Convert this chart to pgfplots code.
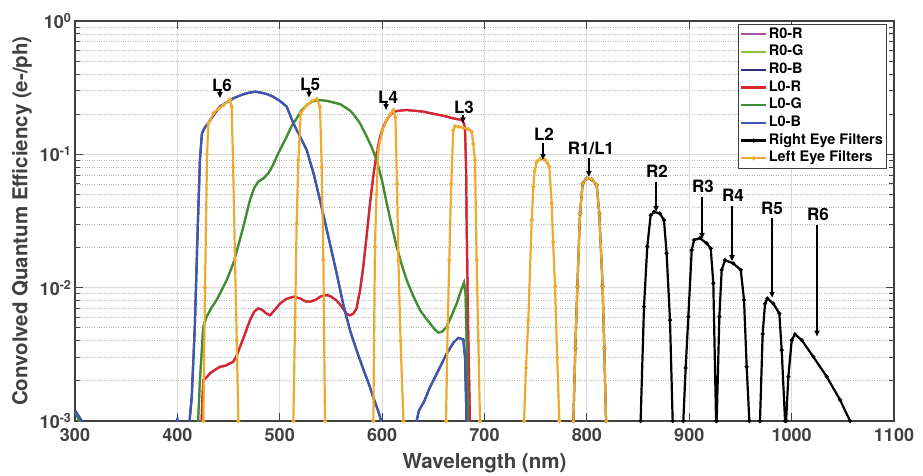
\documentclass[border=0pt]{standalone}
\usepackage{fontspec}
\setmainfont{TeX Gyre Heros}
\usepackage{pgfplots}
\pgfplotsset{compat=1.18}
\usepackage{pgfplotstable}
\usetikzlibrary{arrows.meta}

\definecolor{cR0R}{HTML}{A550A6}
\definecolor{cR0G}{HTML}{8CC63F}
\definecolor{cR0B}{HTML}{2B2E7E}
\definecolor{cL0R}{HTML}{D7262B}
\definecolor{cL0G}{HTML}{3E8B3A}
\definecolor{cL0B}{HTML}{3F57AE}
\definecolor{cLeft}{HTML}{EFA92F}
\definecolor{axgray}{HTML}{404040}
\definecolor{gridgray}{HTML}{DCDCDC}

\pgfplotstableread{
x y
300 0.0012
305 0.00105
310 0.0009
395 0.0008
400 0.00103
402 0.0008
410 0.0008
412 0.00102
414 0.0015
417 0.005
420 0.03
422 0.09
424 0.144
427 0.16
430 0.171
436 0.2
441.6 0.228
448 0.245
454.7 0.263
462 0.278
470 0.29
475.8 0.295
482 0.29
488 0.282
493.7 0.27
500 0.252
506.8 0.228
513.3 0.171
520 0.135
526.3 0.108
533 0.072
539.3 0.0454
547 0.025
555.6 0.0128
562 0.0075
568.6 0.0048
575 0.0034
582 0.0024
587 0.0019
591.4 0.0015
596 0.0012
600 0.00095
633 0.00095
636 0.0012
641 0.0014
646.8 0.0018
655 0.0024
663 0.0032
670 0.0039
674.4 0.0042
679.3 0.0041
681 0.003
682.6 0.0009
}\tblB

\pgfplotstableread{
x y
300 0.0012
304 0.001
306 0.0009
420 0.0009
422 0.002
425.3 0.0051
428.6 0.00605
433 0.007
438.4 0.0081
443 0.0095
448.2 0.0114
454.6 0.0152
459 0.02
464.4 0.0286
470.9 0.0454
475 0.056
479 0.0623
484 0.066
488.8 0.072
493 0.082
497 0.096
502 0.115
506.8 0.1356
511 0.16
516.5 0.186
521 0.212
526.3 0.234
532 0.25
539.3 0.255
546 0.252
552.3 0.245
558.9 0.238
564 0.225
568.6 0.213
572 0.2
578.4 0.171
585 0.1356
590 0.112
594.7 0.0906
600 0.063
604.5 0.0429
609 0.03
614.2 0.0203
619 0.015
624 0.0114
630 0.0088
637 0.0068
642 0.006
646.8 0.0054
651 0.0049
654.9 0.0046
659 0.0047
663 0.0051
668 0.0062
672.8 0.0076
677 0.0095
680 0.0109
681.5 0.009
682.5 0.004
684 0.0009
}\tblG

\pgfplotstableread{
x y
423.5 0.0009
424.5 0.0015
425.4 0.00203
428 0.0021
431.9 0.00228
436 0.0024
441.6 0.00255
447 0.0026
451 0.0027
454.6 0.00278
458 0.0031
461.2 0.0036
466 0.0045
470.9 0.0057
475 0.0066
479 0.0070
483 0.0068
487 0.0064
490.5 0.0062
495 0.0068
500.3 0.0076
506 0.0082
513.3 0.00855
520 0.0083
525 0.0079
529.6 0.00785
535 0.0081
540 0.0086
545.9 0.0088
550 0.0086
555.6 0.008
560 0.0073
565 0.0064
568.6 0.0062
572 0.0064
575 0.007
578.4 0.0095
581.6 0.0144
585 0.025
588.2 0.0429
591.5 0.07
594.7 0.1017
598 0.135
601.2 0.161
605 0.185
611 0.209
618 0.213
624 0.215
632 0.212
640.3 0.209
648 0.203
656.6 0.197
663 0.192
669.6 0.186
677.8 0.181
680 0.17
681 0.152
682 0.08
682.6 0.0286
684 0.005
685.9 0.0009
}\tblR

\pgfplotstableread{
x y
424 0.0001
425.4 0.001
427 0.01
429 0.1
430.3 0.171
435.2 0.203
440 0.22
445 0.234
451.4 0.258
453 0.228
454.5 0.08
456.3 0.0161
458 0.004
459.6 0.001
461 0.0001
512 0.0001
513.3 0.001
515 0.006
516.5 0.03
518.2 0.0906
520.5 0.203
526.3 0.234
531 0.25
536.1 0.26
539.3 0.228
541 0.08
542.6 0.0161
544.2 0.001
546 0.0001
590 0.0001
591.4 0.001
593 0.0203
594.5 0.05
596.3 0.108
600 0.15
604.5 0.181
608 0.2
611 0.215
613 0.19
614.5 0.06
615.9 0.0161
618 0.004
620.8 0.001
622 0.0001
661 0.0001
662.4 0.001
664 0.005
665.6 0.0161
667.5 0.06
669.5 0.152
671.2 0.163
675 0.161
679.3 0.158
684 0.155
687.5 0.148
689 0.12
690.7 0.0906
692.3 0.0161
694 0.004
695.6 0.001
697 0.0001
737 0.0001
738.6 0.001
740.5 0.0025
742.8 0.0057
746.1 0.0321
747.7 0.0571
749 0.075
751 0.088
754.2 0.092
759.1 0.091
761.5 0.086
763.3 0.0807
765.6 0.043
767 0.022
768.9 0.0102
771 0.003
773.1 0.001
775 0.0001
785 0.0001
786.8 0.001
788.7 0.0035
790.7 0.0102
793.3 0.036
795.9 0.0606
799.8 0.066
804.7 0.065
809.6 0.0589
812.1 0.036
815.4 0.0102
817 0.0035
818.7 0.001
820 0.0001
}\tblLeft

\pgfplotstableread{
x y
785 0.0001
786.8 0.001
788.7 0.0035
790.7 0.0102
793.3 0.036
795.9 0.0606
799.8 0.066
804.7 0.065
809.6 0.0589
812.1 0.036
815.4 0.0102
817 0.0035
818.7 0.001
820 0.0001
851 0.0001
852.5 0.001
855.8 0.0072
859 0.0203
862.3 0.035
865.6 0.037
871.4 0.036
875.3 0.0321
877.9 0.0181
881.2 0.0057
883.8 0.001
885 0.0001
893 0.0001
894.2 0.001
896.5 0.0025
899.1 0.00605
902.4 0.0191
904.7 0.0228
910.5 0.0235
917 0.0215
921 0.0197
923.5 0.0108
926.2 0.001
926.5 0.0001
926.6 0.0001
926.8 0.001
929.4 0.00605
931.7 0.0136
935 0.0161
943 0.0152
950.3 0.0136
953.5 0.0081
956.1 0.00255
958.7 0.001
960 0.0001
968 0.0001
969.1 0.001
971.7 0.0045
974 0.0076
976.3 0.0083
982.1 0.0076
988 0.0064
990.3 0.0034
993.6 0.001
994 0.0001
994.2 0.0001
994.6 0.001
996.8 0.00215
1000.1 0.00404
1003.3 0.00447
1009.9 0.00404
1021.2 0.00303
1034.3 0.00215
1047.3 0.00144
1057.1 0.001
1060 0.0001
}\tblRight

\begin{document}
\begin{tikzpicture}
\begin{axis}[
  scale only axis,
  width=819pt, height=400pt,
  ymode=log,
  xmin=300, xmax=1100, ymin=1e-3, ymax=1,
  xtick={300,400,...,1100},
  ytick={0.001,0.01,0.1,1},
  yticklabels={10\textsuperscript{-3},10\textsuperscript{-2},10\textsuperscript{-1},10\textsuperscript{0}},
  xticklabel={\pgfmathprintnumber[fixed,1000 sep={}]{\tick}},
  /pgf/number format/assume math mode=true,
  ticklabel style={font=\fontsize{18}{18}\selectfont\bfseries, text=axgray},
  xticklabel style={yshift=-4pt},
  xlabel={Wavelength (nm)},
  ylabel={Convolved Quantum Efficiency (e-/ph)},
  label style={font=\fontsize{20.5}{20.5}\selectfont\bfseries, text=axgray},
  xlabel style={yshift=-5pt},
  ylabel style={yshift=1pt},
  axis line style={axgray, line width=1.3pt},
  tick style={axgray, line width=0.9pt},
  tick align=inside,
  xtick pos=both, ytick pos=both,
  major tick length=8pt, minor tick length=5pt,
  xmajorgrids, ymajorgrids, yminorgrids,
  major grid style={gridgray, line width=1.2pt},
  minor grid style={gray!55, dotted, line width=0.8pt},
  clip=true,
  legend cell align=left,
  legend style={at={(1,1)}, anchor=north east, xshift=-7pt, yshift=-3pt,
    draw=axgray, line width=1pt, fill=white,
    font=\fontsize{14.5}{17}\selectfont\bfseries,
    inner xsep=2pt, inner ysep=1pt,
    nodes={inner sep=1.5pt, text height=11pt, text depth=3.7pt}},
  legend image code/.code={\draw[mark repeat=2,mark phase=2] plot coordinates {(0pt,0pt) (12.5pt,0pt) (25pt,0pt)};},
]
\addplot[cR0R, line width=2.2pt] table {\tblR};
\addlegendentry{R0-R}
\addplot[cR0G, line width=2.2pt] table {\tblG};
\addlegendentry{R0-G}
\addplot[cR0B, line width=2.2pt] table {\tblB};
\addlegendentry{R0-B}
\addplot[cL0R, line width=2.2pt] table {\tblR};
\addlegendentry{L0-R}
\addplot[cL0G, line width=2.2pt] table {\tblG};
\addlegendentry{L0-G}
\addplot[cL0B, line width=2.2pt] table {\tblB};
\addlegendentry{L0-B}
\addplot[black, line width=2.2pt, mark=*, mark size=0.7pt] table {\tblRight};
\addlegendentry{Right Eye Filters}
\addplot[cLeft, line width=2.2pt, mark=*, mark size=0.7pt] table {\tblLeft};
\addlegendentry{Left Eye Filters}

\begin{scope}[every node/.style={font=\fontsize{17}{17}\selectfont\bfseries}]
\node at (axis cs:443.6,0.331) {L6};
\node at (axis cs:529.6,0.337) {L5};
\node at (axis cs:605.8,0.269) {L4};
\node at (axis cs:680,0.226) {L3};
\node at (axis cs:758.1,0.142) {L2};
\node at (axis cs:804,0.111) {R1/L1};
\node at (axis cs:868.5,0.075) {R2};
\node at (axis cs:913.5,0.0578) {R3};
\node at (axis cs:942.8,0.0495) {R4};
\node at (axis cs:980.9,0.0395) {R5};
\node at (axis cs:1025.8,0.0357) {R6};
\end{scope}
\begin{scope}[line width=1.6pt, -{Triangle[length=6pt,width=5pt]}]
\draw (axis cs:441.6,0.300) -- (axis cs:441.6,0.264);
\draw (axis cs:528.6,0.305) -- (axis cs:528.6,0.266);
\draw (axis cs:603.8,0.243) -- (axis cs:603.8,0.215);
\draw (axis cs:679,0.198) -- (axis cs:679,0.171);
\draw (axis cs:757.1,0.121) -- (axis cs:757.1,0.0906);
\draw (axis cs:802,0.094) -- (axis cs:802,0.0677);
\draw (axis cs:867.6,0.062) -- (axis cs:867.6,0.037);
\draw (axis cs:912.5,0.0477) -- (axis cs:912.5,0.0232);
\draw (axis cs:941.8,0.0410) -- (axis cs:941.8,0.0158);
\draw (axis cs:980.9,0.0332) -- (axis cs:980.9,0.0084);
\draw (axis cs:1024.8,0.0295) -- (axis cs:1024.8,0.0043);
\end{scope}
\end{axis}
\pgfresetboundingbox
\path ([shift={(-75pt,-54pt)}]current axis.south west) rectangle ([shift={(29pt,21pt)}]current axis.north east);
\end{tikzpicture}
\end{document}
